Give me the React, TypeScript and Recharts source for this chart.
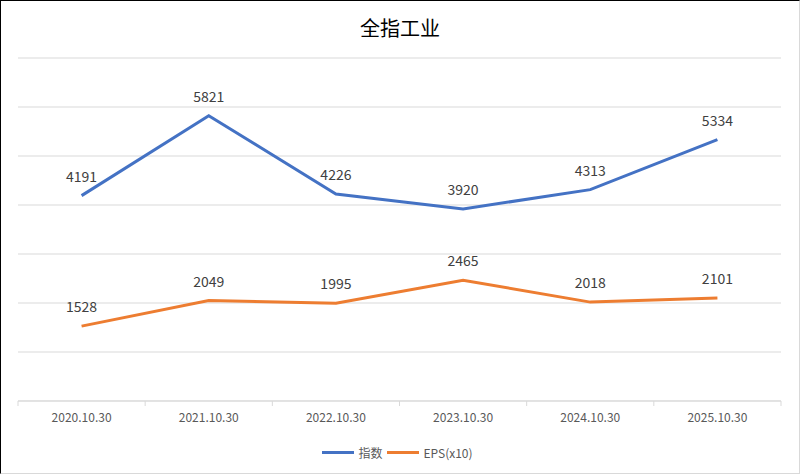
import { ComposedChart, Line, XAxis, YAxis, CartesianGrid, LabelList } from "recharts";

const categories = ["2020.10.30", "2021.10.30", "2022.10.30", "2023.10.30", "2024.10.30", "2025.10.30"];
const indexValues = [4191, 5821, 4226, 3920, 4313, 5334];
const epsValues = [1528, 2049, 1995, 2465, 2018, 2101];
const yTicks = [0, 1000, 2000, 3000, 4000, 5000, 6000, 7000];
const seriesNames = ["指数", "EPS(x10)"];

const data = categories.map((date, i) => ({
  date,
  index: indexValues[i],
  eps: epsValues[i],
}));

const W = 800;
const H = 474;
const X_AXIS_H = 30;
const margin = { top: 58, right: 19, bottom: 73 - X_AXIS_H, left: 18 };
const bandWidth = (W - margin.left - margin.right) / categories.length;

const BLUE = "#4472C4";
const ORANGE = "#ED7D31";
const FONT = "'Noto Sans CJK SC', 'Noto Sans', sans-serif";

const DateTick = (props: any) => {
  const { x, y, payload, index } = props;
  const left = x - bandWidth / 2;
  const right = x + bandWidth / 2;
  return (
    <g>
      <line x1={left} y1={y} x2={left} y2={y + 5} stroke="#d9d9d9" />
      {index === categories.length - 1 && (
        <line x1={right} y1={y} x2={right} y2={y + 5} stroke="#d9d9d9" />
      )}
      <text x={x} y={y + 21} textAnchor="middle" fontSize={12} fill="#595959" fontFamily={FONT}>
        {payload.value}
      </text>
    </g>
  );
};

// legend drawn by hand so it doesn't eat into the plot area
const LegendBox = () => {
  const colors = [BLUE, ORANGE];
  return (
    <div
      style={{
        position: "absolute",
        top: 443,
        left: 0,
        width: "100%",
        display: "flex",
        justifyContent: "center",
        alignItems: "center",
        fontFamily: FONT,
        fontSize: 12,
        color: "#595959",
      }}
    >
      {seriesNames.map((name, i) => (
        <div key={name} style={{ display: "flex", alignItems: "center", marginRight: 5 }}>
          <span style={{ display: "inline-block", width: 32, height: 3, background: colors[i], marginRight: 4 }} />
          <span>{name}</span>
        </div>
      ))}
    </div>
  );
};

export default function App() {
  return (
    <div
      style={{
        position: "fixed",
        left: 0,
        top: 0,
        width: W,
        height: H,
        boxSizing: "border-box",
        border: "1px solid #d9d9d9",
        borderLeft: "1px solid #000",
        borderTop: "1px solid #000",
        background: "#fff",
      }}
    >
      <div
        style={{
          position: "absolute",
          top: 12,
          left: 0,
          width: "100%",
          textAlign: "center",
          fontFamily: FONT,
          fontSize: 20,
          color: "#000",
        }}
      >
        全指工业
      </div>
      <div style={{ position: "absolute", left: -1, top: -1 }}>
        <ComposedChart width={W} height={H} data={data} margin={margin}>
          <CartesianGrid horizontal vertical={false} stroke="#d9d9d9" />
          <XAxis
            dataKey="date"
            scale="band"
            axisLine={{ stroke: "#d9d9d9" }}
            tickLine={false}
            tickSize={0}
            tickMargin={0}
            tick={<DateTick />}
            interval={0}
            height={X_AXIS_H}
          />
          <YAxis hide domain={[0, 7000]} ticks={yTicks} width={0} />
          <Line
            dataKey="index"
            name={seriesNames[0]}
            stroke={BLUE}
            strokeWidth={3}
            dot={false}
            isAnimationActive={false}
          >
            <LabelList dataKey="index" position="top" offset={14} fontSize={14} fill="#404040" fontFamily={FONT} />
          </Line>
          <Line
            dataKey="eps"
            name={seriesNames[1]}
            stroke={ORANGE}
            strokeWidth={3}
            dot={false}
            isAnimationActive={false}
          >
            <LabelList dataKey="eps" position="top" offset={14} fontSize={14} fill="#404040" fontFamily={FONT} />
          </Line>
        </ComposedChart>
      </div>
      <LegendBox />
    </div>
  );
}
